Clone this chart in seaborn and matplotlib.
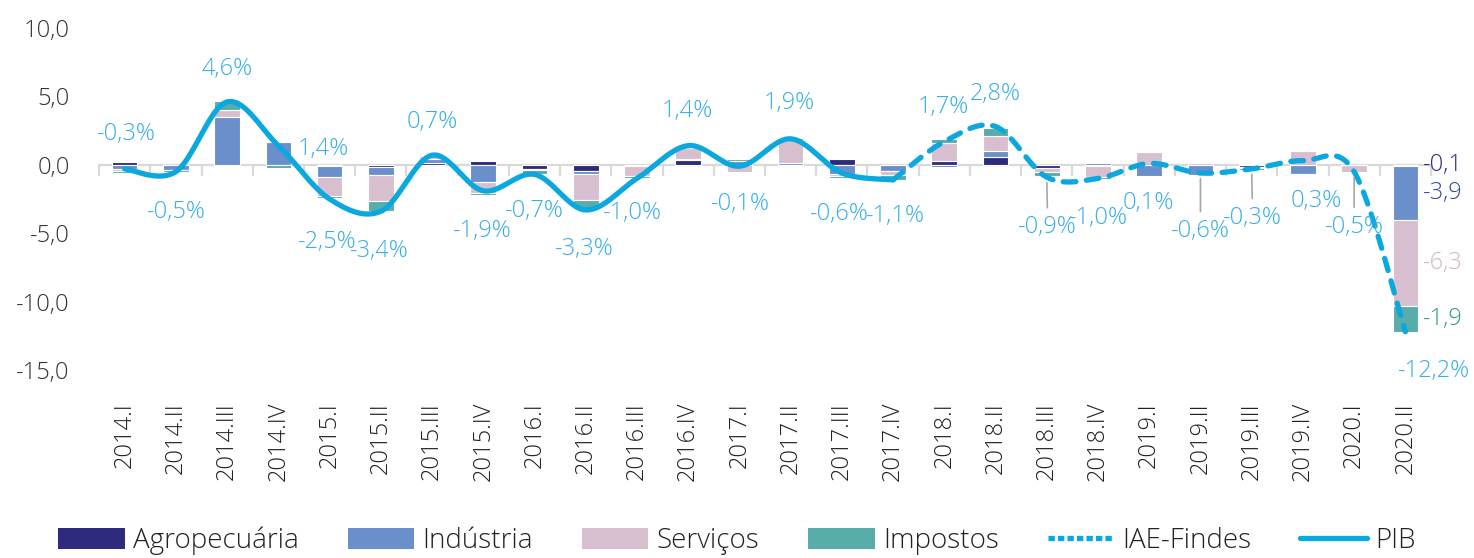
import numpy as np
import matplotlib
matplotlib.use("Agg")
import matplotlib.pyplot as plt
from matplotlib.patches import Patch
from matplotlib.lines import Line2D
from matplotlib.ticker import FuncFormatter
import seaborn as sns

# dados (pontos percentuais)
quarters = ["2014.I", "2014.II", "2014.III", "2014.IV",
            "2015.I", "2015.II", "2015.III", "2015.IV",
            "2016.I", "2016.II", "2016.III", "2016.IV",
            "2017.I", "2017.II", "2017.III", "2017.IV",
            "2018.I", "2018.II", "2018.III", "2018.IV",
            "2019.I", "2019.II", "2019.III", "2019.IV",
            "2020.I", "2020.II"]
agro = [0.2, -0.05, 0.0, 0.0, -0.1, -0.15, 0.15, 0.25, -0.3, -0.45, -0.05, 0.35, 0.0,
        0.0, 0.4, -0.05, 0.25, 0.6, -0.2, -0.07, -0.05, 0.0, -0.15, 0.0, 0.0, -0.1]
industria = [-0.3, -0.3, 3.5, 1.65, -0.8, -0.6, 0.3, -1.25, -0.05, -0.25, -0.05, 0.07, 0.3,
             0.15, -0.65, -0.4, -0.15, 0.4, 0.0, 0.15, -0.8, -0.75, -0.1, -0.65, 0.0, -3.9]
servicos = [-0.15, -0.05, 0.5, 0.0, -1.35, -1.9, 0.2, -0.8, -0.05, -1.9, -0.75, 0.8, -0.55,
            1.65, -0.15, -0.3, 1.35, 1.1, -0.35, -0.8, 0.95, 0.15, 0.05, 1.0, -0.5, -6.3]
impostos = [-0.15, -0.15, 0.65, -0.2, -0.2, -0.75, 0.0, -0.15, -0.3, -0.65, -0.15, 0.15, 0.15,
            0.15, -0.2, -0.35, 0.3, 0.6, -0.3, -0.15, 0.0, 0.0, -0.1, -0.05, 0.0, -1.9]
pib = [-0.3, -0.5, 4.6, 1.4, -2.5, -3.4, 0.7, -1.9, -0.7, -3.3, -1.0, 1.4, -0.1, 1.9, -0.6, -1.1]
iae = [-1.1, 1.7, 2.8, -0.9, -1.0, 0.1, -0.6, -0.3, 0.3, -0.5, -12.2]
iae_start = 15

series_names = ["Agropecuária", "Indústria", "Serviços", "Impostos"]
series_colors = ["#2e2a7e", "#6a8fca", "#d8bfcf", "#58aca9"]
last_label_colors = ["#2e2a7e", "#34469a", "#d2b5c6", "#2e9a80"]
line_color = "#0aa8de"
label_color = "#35aee6"

# deslocamento dos rótulos (pixels) e quais têm linha de chamada
label_offsets = [(2, 35), (0, -40), (0, 33), (45, -3), (-2, -43), (-1, -40), (0, 33),
                 (-1, -40), (0, -37), (-1, -39), (-5, -35), (-1, 35), (1, -38), (-1, 36),
                 (-2, -41), (2, -36), (-1, 35), (0, 33), (1, -50), (0, -40), (-1, -40),
                 (0, -58), (1, -49), (13, -40), (0, -55), (29, -39)]
leader = {18, 21, 22, 24}


def smooth(xs, ys, n=40):
    # curva suavizada estilo Excel (Bezier com tangentes de 1/6)
    p = np.column_stack([xs, ys]).astype(float)
    out = []
    for i in range(len(p) - 1):
        p0, p1, p2 = p[max(i - 1, 0)], p[i], p[i + 1]
        p3 = p[min(i + 2, len(p) - 1)]
        c1 = p1 + (p2 - p0) / 6
        c2 = p2 - (p3 - p1) / 6
        t = np.linspace(0, 1, n)[:, None]
        seg = ((1 - t) ** 3) * p1 + 3 * ((1 - t) ** 2) * t * c1 + 3 * (1 - t) * t ** 2 * c2 + t ** 3 * p2
        out.append(seg if i == 0 else seg[1:])
    out = np.vstack(out)
    return out[:, 0], out[:, 1]


sns.set_theme(style="white")
plt.rcParams['font.family'] = ['Open Sans', 'DejaVu Sans']

fig = plt.figure(figsize=(14.74, 5.58), dpi=100)
ax = fig.add_axes([0.0672, 0.3369, 0.9036, 0.6129])

# barras empilhadas (positivos para cima, negativos para baixo)
data = [np.array(agro), np.array(industria), np.array(servicos), np.array(impostos)]
pos_cum = np.zeros(len(quarters))
neg_cum = np.zeros(len(quarters))
xpos = np.arange(len(quarters))
for vals, name, col in zip(data, series_names, series_colors):
    bottom = np.where(vals >= 0, pos_cum, neg_cum)
    sns.barplot(x=quarters, y=vals, bottom=bottom, color=col, width=0.5, saturation=1,
                edgecolor="white", linewidth=0.8, errorbar=None, ax=ax, zorder=2)
    pos_cum = pos_cum + np.where(vals > 0, vals, 0)
    neg_cum = neg_cum + np.where(vals < 0, vals, 0)

# rótulos dos componentes no último trimestre
last = len(quarters) - 1
cum = 0.0
for vals, col in zip(data, last_label_colors):
    v = vals[last]
    mid = cum + v / 2
    cum += v
    ax.annotate(f"{v:.1f}".replace(".", ","), xy=(last + 0.25, mid),
                xytext=(5, 0), textcoords="offset pixels", ha="left", va="center",
                fontsize=17, color=col, fontweight="light")

# linhas suavizadas
xs, ys = smooth(np.arange(len(pib)), pib)
sns.lineplot(x=xs, y=ys, color=line_color, lw=3.8, ax=ax, zorder=4,
             solid_capstyle="round", sort=False)
xi, yi = smooth(np.arange(iae_start, iae_start + len(iae)), iae)
sns.lineplot(x=xi, y=yi, color=line_color, lw=3.8, ax=ax, zorder=4, sort=False,
             dashes=False, linestyle=(0, (2.4, 2.0)), dash_capstyle="round")

# rótulos da linha
line_vals = pib[:iae_start] + iae
for i, v in enumerate(line_vals):
    dx, dy = label_offsets[i]
    arrow = dict(arrowstyle="-", color="#a6a6a6", lw=1.2, shrinkA=3, shrinkB=4) if i in leader else None
    ax.annotate(f"{v:.1f}%".replace(".", ","), xy=(i, v), xytext=(dx, dy),
                textcoords="offset pixels", ha="center", va="center",
                fontsize=17, color=label_color, fontweight="light",
                arrowprops=arrow, zorder=5)

# eixos
ax.set_ylim(-15, 10)
ax.set_xlim(-0.5, len(quarters) - 0.5)
ax.set_yticks(np.arange(-15, 11, 5))
ax.yaxis.set_major_formatter(FuncFormatter(lambda v, p: f"{v:.1f}".replace(".", ",")))
ax.tick_params(axis="y", length=0, pad=21, labelsize=17, labelcolor="#333333")
for lab in ax.get_yticklabels():
    lab.set_fontweight("light")
ax.set_ylabel("")
for s in ["left", "right", "top"]:
    ax.spines[s].set_visible(False)
ax.spines["bottom"].set_position(("data", 0))
ax.spines["bottom"].set_color("#d9d9d9")
ax.spines["bottom"].set_linewidth(1.6)
ax.spines["bottom"].set_zorder(1)
ax.set_xticks([])
ax.set_xticks(np.arange(-0.5, len(quarters), 1), minor=True)
ax.tick_params(axis="x", which="minor", bottom=True, length=8, width=1.6,
               color="#d9d9d9", direction="out")

sec = ax.secondary_xaxis(0.0)
sec.set_xticks(xpos, labels=quarters)
sec.tick_params(length=0, pad=23, labelsize=17, labelcolor="#222222", rotation=90)
sec.spines["bottom"].set_visible(False)
for lab in sec.get_xticklabels():
    lab.set_fontweight("light")

# legenda
handles = [Patch(facecolor=c, edgecolor="none") for c in series_colors]
handles += [Line2D([], [], color=line_color, lw=3.8, linestyle=(0, (1.2, 0.6))),
            Line2D([], [], color=line_color, lw=3.8)]
labels = series_names + ["IAE-Findes", "PIB"]
leg = fig.legend(handles, labels, ncol=6, loc="lower center", bbox_to_anchor=(0.5, -0.04),
                 frameon=False, fontsize=20, handlelength=2.4, handleheight=0.75,
                 handletextpad=0.3, columnspacing=1.75)
for t in leg.get_texts():
    t.set_fontweight("light")
    t.set_color("#222222")

fig.savefig("out.png", dpi=100)
